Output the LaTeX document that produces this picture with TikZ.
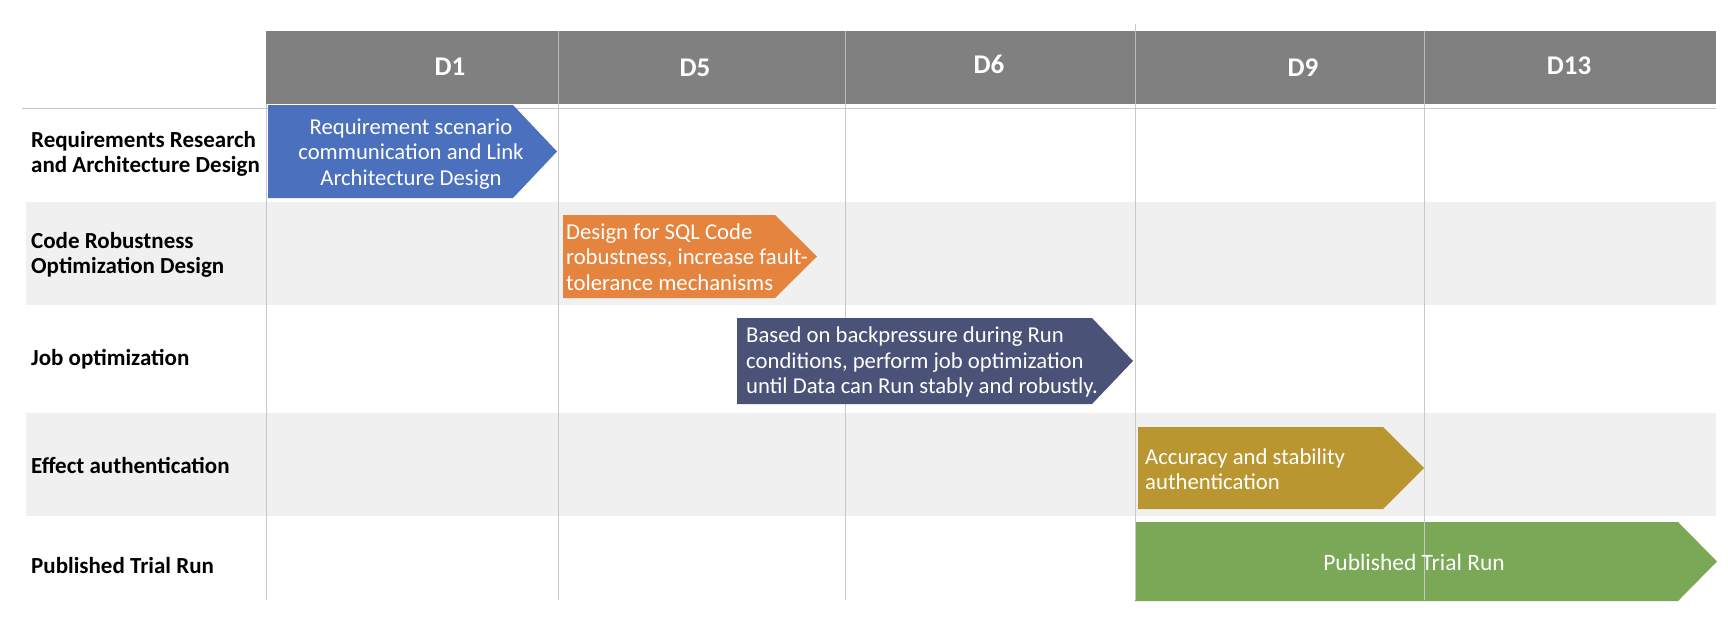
\documentclass[tikz,border=0pt]{standalone}
\usepackage{fontspec}
\setmainfont{Carlito}
\definecolor{hdrgray}{HTML}{808080}
\definecolor{rowgray}{HTML}{F0F0F0}
\definecolor{gridgray}{HTML}{C8C8C8}
\definecolor{barblue}{HTML}{4A70BE}
\definecolor{barorange}{HTML}{E5843F}
\definecolor{barnavy}{HTML}{4A5278}
\definecolor{bargold}{HTML}{B9962F}
\definecolor{bargreen}{HTML}{7AA856}
\begin{document}
\begin{tikzpicture}[x=1pt,y=-1pt,
  rowlabel/.style={anchor=west, align=left, inner sep=0pt, font=\bfseries\fontsize{23}{24.5}\selectfont},
  daylabel/.style={text=white, inner sep=0pt, font=\bfseries\fontsize{27}{29}\selectfont},
  bartext/.style={text=white, inner sep=0pt, font=\fontsize{22.7}{25.5}\selectfont},
  gridline/.style={draw=gridgray, line width=1pt}]
\useasboundingbox (0,0) rectangle (1728,624);
\fill[white] (0,0) rectangle (1728,624);
% shaded rows
\fill[rowgray] (26,202) rectangle (1716,305);
\fill[rowgray] (26,413) rectangle (1716,516);
% last bar sits under the grid
\fill[bargreen] (1135,522) -- (1678,522) -- (1717,561.5) -- (1678,601) -- (1135,601) -- cycle;
% grid
\draw[gridline] (22,108) -- (1716,108);
\foreach \x in {266,558,845,1424} \draw[gridline] (\x,31) -- (\x,600);
\draw[gridline] (1135,24) -- (1135,600);
% header
\fill[hdrgray] (266,31) rectangle (1716,104);
\foreach \x in {558,845,1135,1424} \draw[draw=gridgray!80!hdrgray, line width=1pt] (\x,31) -- (\x,104);
\node[daylabel] (d1) at (450,67) {D1};
\node[daylabel] (d5) at (695,68) {D5};
\node[daylabel] (d6) at (989,64) {D6};
\node[daylabel] (d9) at (1303,68) {D9};
\node[daylabel] (d13) at (1569,66) {D13};
% row labels
\node[rowlabel] (r1) at (31,154) {Requirements Research\\and Architecture Design};
\node[rowlabel] (r2) at (31,255) {Code Robustness\\Optimization Design};
\node[rowlabel] (r3) at (31,359) {Job optimization};
\node[rowlabel] (r4) at (31,465) {Effect authentication};
\node[rowlabel] (r5) at (31,566) {Published Trial Run};
% task bars
\fill[barblue] (268,105) -- (513,105) -- (557,151.5) -- (513,198) -- (268,198) -- cycle;
\fill[barorange] (563,215) -- (775,215) -- (817,256.5) -- (775,298) -- (563,298) -- cycle;
\fill[barnavy] (737,318) -- (1092,318) -- (1133,361) -- (1092,404) -- (737,404) -- cycle;
\fill[bargold] (1138,427) -- (1383,427) -- (1424,468) -- (1383,509) -- (1138,509) -- cycle;
\node[bartext, align=center] (t1) at (411,154) {Requirement scenario\\communication and Link\\Architecture Design};
\node[bartext, align=left, anchor=west] (t2) at (566,257) {Design for SQL Code\\robustness, increase fault-\\tolerance mechanisms};
\node[bartext, align=left, anchor=west] (t3) at (746,362) {Based on backpressure during Run\\conditions, perform job optimization\\until Data can Run stably and robustly.};
\node[bartext, align=left, anchor=west] (t4) at (1145,469) {Accuracy and stability\\authentication};
\node[bartext, font=\fontsize{23.5}{26}\selectfont] (t5) at (1414,562) {Published Trial Run};
\end{tikzpicture}
\end{document}
